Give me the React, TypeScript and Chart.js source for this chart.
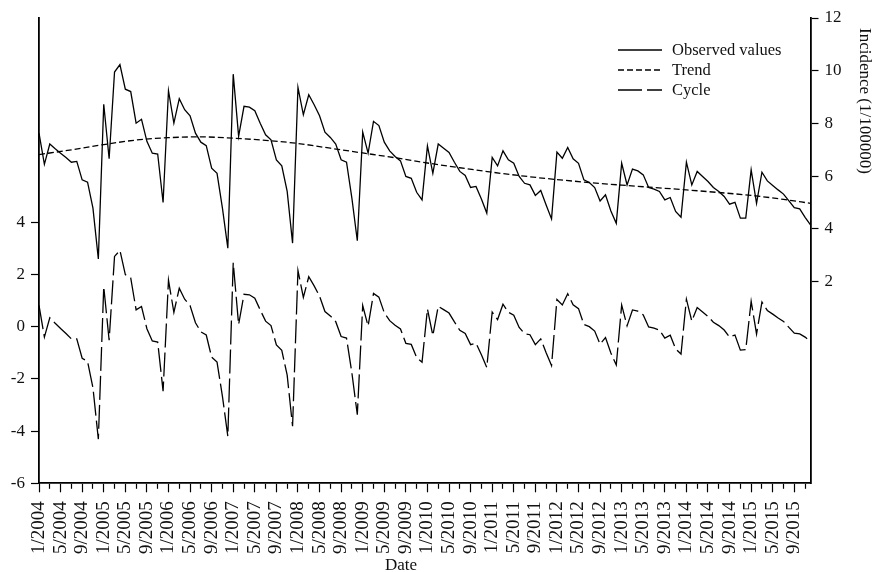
import React, { useEffect, useRef } from "react";
import { Chart, registerables } from "chart.js";

Chart.register(...registerables);

// ---------- data ----------
const years = [2004, 2005, 2006, 2007, 2008, 2009, 2010, 2011, 2012, 2013, 2014, 2015];
const monthNumbers = [1, 2, 3, 4, 5, 6, 7, 8, 9, 10, 11, 12];
const months: string[] = years.flatMap((y) => monthNumbers.map((m) => `${m}/${y}`));

const xTickLabels = [
  "1/2004", "5/2004", "9/2004", "1/2005", "5/2005", "9/2005",
  "1/2006", "5/2006", "9/2006", "1/2007", "5/2007", "9/2007",
  "1/2008", "5/2008", "9/2008", "1/2009", "5/2009", "9/2009",
  "1/2010", "5/2010", "9/2010", "1/2011", "5/2011", "9/2011",
  "1/2012", "5/2012", "9/2012", "1/2013", "5/2013", "9/2013",
  "1/2014", "5/2014", "9/2014", "1/2015", "5/2015", "9/2015",
];

const observed = [
  7.63, 6.45, 7.22, 7.04, 6.87, 6.71, 6.53, 6.56, 5.86, 5.77, 4.79, 2.86,
  8.73, 6.66, 9.95, 10.23, 9.30, 9.21, 8.01, 8.16, 7.32, 6.87, 6.84, 5.00,
  9.24, 8.01, 8.94, 8.52, 8.29, 7.63, 7.29, 7.16, 6.30, 6.11, 4.79, 3.27,
  9.87, 7.51, 8.65, 8.62, 8.48, 8.01, 7.57, 7.38, 6.62, 6.39, 5.42, 3.46,
  9.37, 8.33, 9.09, 8.71, 8.29, 7.67, 7.47, 7.22, 6.62, 6.53, 5.16, 3.55,
  7.67, 6.87, 8.08, 7.92, 7.29, 6.96, 6.75, 6.58, 5.99, 5.92, 5.39, 5.10,
  7.15, 6.11, 7.22, 7.06, 6.90, 6.53, 6.18, 6.03, 5.57, 5.61, 5.13, 4.60,
  6.71, 6.39, 6.96, 6.62, 6.49, 5.99, 5.73, 5.67, 5.27, 5.46, 4.91, 4.38,
  6.91, 6.68, 7.09, 6.66, 6.49, 5.86, 5.76, 5.57, 5.06, 5.29, 4.68, 4.21,
  6.49, 5.67, 6.27, 6.20, 6.05, 5.57, 5.51, 5.42, 5.10, 5.19, 4.66, 4.44,
  6.53, 5.67, 6.18, 5.99, 5.80, 5.57, 5.42, 5.23, 4.94, 5.01, 4.41, 4.41,
  6.24, 4.97, 6.15, 5.82, 5.65, 5.48, 5.32, 5.06, 4.81, 4.76, 4.44, 4.15,
];

const trendMonths = [
  "1/2004", "7/2004", "1/2005", "7/2005", "1/2006", "7/2006", "1/2007", "7/2007",
  "1/2008", "7/2008", "1/2009", "7/2009", "1/2010", "7/2010", "1/2011", "7/2011",
  "1/2012", "7/2012", "1/2013", "7/2013", "1/2014", "7/2014", "1/2015", "7/2015", "12/2015",
];
const trendValues = [
  6.82, 7.00, 7.20, 7.37, 7.46, 7.49, 7.44, 7.36,
  7.24, 7.06, 6.88, 6.70, 6.50, 6.32, 6.15, 6.00,
  5.87, 5.76, 5.66, 5.57, 5.48, 5.38, 5.27, 5.12, 4.97,
];

const cycle = [
  0.81, -0.40, 0.34, 0.13, -0.07, -0.26, -0.47, -0.47, -1.21, -1.33, -2.34, -4.31,
  1.53, -0.52, 2.69, 2.92, 1.99, 1.87, 0.64, 0.77, -0.08, -0.55, -0.59, -2.47,
  1.78, 0.55, 1.47, 1.05, 0.81, 0.15, -0.20, -0.32, -1.17, -1.36, -2.67, -4.20,
  2.45, 0.08, 1.24, 1.22, 1.09, 0.64, 0.21, 0.04, -0.70, -0.91, -1.86, -3.81,
  2.15, 1.12, 1.91, 1.56, 1.17, 0.58, 0.41, 0.19, -0.38, -0.44, -1.78, -3.37,
  0.81, 0.02, 1.27, 1.13, 0.53, 0.23, 0.05, -0.09, -0.64, -0.68, -1.18, -1.36,
  0.68, -0.34, 0.78, 0.65, 0.52, 0.18, -0.14, -0.26, -0.69, -0.63, -1.08, -1.56,
  0.56, 0.27, 0.86, 0.55, 0.44, -0.03, -0.27, -0.31, -0.69, -0.47, -1.00, -1.49,
  1.04, 0.83, 1.26, 0.84, 0.69, 0.08, 0.00, -0.17, -0.67, -0.42, -1.01, -1.47,
  0.83, 0.03, 0.64, 0.59, 0.45, -0.01, -0.06, -0.13, -0.44, -0.33, -0.85, -1.05,
  1.05, 0.21, 0.73, 0.56, 0.39, 0.17, 0.04, -0.13, -0.40, -0.32, -0.90, -0.88,
  0.97, -0.28, 0.94, 0.62, 0.48, 0.33, 0.20, -0.03, -0.25, -0.28, -0.40, -0.58,
];

const leftTicks = [-6, -4, -2, 0, 2, 4];
const rightTicks = [2, 4, 6, 8, 10, 12];

const seriesLabels = ["Observed values", "Trend", "Cycle"];
const xTitle = "Date";
const yRightTitle = "Incidence (1/100000)";

// ---------- styling ----------
const FONT = "'Liberation Serif', 'Times New Roman', serif";
const INK = "#000";
const TEXT = "#111";

const overlayPlugin = {
  id: "overlay",
  afterDraw(chart: any) {
    const ctx = chart.ctx as CanvasRenderingContext2D;
    ctx.save();
    // legend
    chart.data.datasets.forEach((ds: any, k: number) => {
      const y = 50 + k * 20;
      ctx.beginPath();
      ctx.setLineDash(ds.borderDash || []);
      ctx.lineWidth = ds.borderWidth;
      ctx.strokeStyle = ds.borderColor;
      ctx.moveTo(618, y);
      ctx.lineTo(662, y);
      ctx.stroke();
      ctx.setLineDash([]);
      ctx.fillStyle = TEXT;
      ctx.font = `16.5px ${FONT}`;
      ctx.textAlign = "left";
      ctx.textBaseline = "middle";
      ctx.fillText(ds.label, 672, y + 1);
    });
    // x title
    ctx.font = `17px ${FONT}`;
    ctx.fillStyle = TEXT;
    ctx.textAlign = "center";
    ctx.textBaseline = "middle";
    ctx.fillText(xTitle, 401, 566);
    // right y title
    ctx.translate(864.5, 28);
    ctx.rotate(Math.PI / 2);
    ctx.textAlign = "left";
    ctx.textBaseline = "middle";
    ctx.fillText(yRightTitle, 0, 0);
    ctx.restore();
  },
};

export default function App() {
  const canvasRef = useRef<HTMLCanvasElement | null>(null);

  useEffect(() => {
    if (!canvasRef.current) return;
    Chart.defaults.font.family = FONT;
    const chart = new Chart(canvasRef.current, {
      type: "line",
      data: {
        labels: months,
        datasets: [
          {
            label: seriesLabels[0],
            data: observed,
            yAxisID: "y2",
            borderColor: INK,
            borderWidth: 1.3,
            pointRadius: 0,
            tension: 0,
            fill: false,
          },
          {
            label: seriesLabels[1],
            data: trendMonths.map((m, k) => ({ x: m, y: trendValues[k] })),
            yAxisID: "y2",
            borderColor: INK,
            borderWidth: 1.3,
            borderDash: [6, 3],
            pointRadius: 0,
            cubicInterpolationMode: "monotone",
            fill: false,
          },
          {
            label: seriesLabels[2],
            data: cycle,
            yAxisID: "y",
            borderColor: INK,
            borderWidth: 1.3,
            borderDash: [24, 5],
            pointRadius: 0,
            tension: 0,
            fill: false,
          },
        ],
      } as any,
      options: {
        responsive: false,
        animation: false,
        layout: { padding: { top: 18, left: 0, right: 0, bottom: 0 } },
        plugins: { legend: { display: false }, tooltip: { enabled: false } },
        scales: {
          x: {
            type: "category",
            offset: false,
            grid: {
              display: true,
              drawOnChartArea: false,
              drawTicks: true,
              tickLength: 9,
              tickColor: INK,
              tickWidth: 1.2,
              tickBorderDash: (c: any) =>
                c.tick && c.tick.value % 4 === 0 ? [] : [5, 50],
            } as any,
            border: { display: true, color: INK, width: 1.8 },
            ticks: {
              autoSkip: false,
              minRotation: 90,
              maxRotation: 90,
              padding: 9,
              color: TEXT,
              font: { size: 19, family: FONT },
              callback: (v: any) => (Number(v) % 4 === 0 ? xTickLabels[Number(v) / 4] : ""),
            },
            afterBuildTicks: (s: any) => {
              s.ticks = s.ticks.filter((t: any) => t.value % 2 === 0);
            },
            afterFit: (s: any) => {
              s.height = 96.7;
            },
          },
          y: {
            type: "linear",
            position: "left",
            min: -6,
            max: 11.82,
            grid: {
              display: true,
              drawOnChartArea: false,
              tickLength: 8,
              tickColor: INK,
              tickWidth: 1.2,
            },
            border: { display: true, color: INK, width: 1.8 },
            ticks: { color: TEXT, padding: 6, font: { size: 17, family: FONT } },
            afterBuildTicks: (s: any) => {
              s.ticks = leftTicks.map((v) => ({ value: v }));
            },
            afterFit: (s: any) => {
              s.width = 39;
            },
          },
          y2: {
            type: "linear",
            position: "right",
            min: -5.65,
            max: 12,
            grid: {
              display: true,
              drawOnChartArea: false,
              tickLength: 8,
              tickColor: INK,
              tickWidth: 1.2,
            },
            border: { display: true, color: INK, width: 1.8 },
            ticks: { color: TEXT, padding: 6, font: { size: 17, family: FONT } },
            afterBuildTicks: (s: any) => {
              s.ticks = rightTicks.map((v) => ({ value: v }));
            },
            afterFit: (s: any) => {
              s.width = 61.5;
            },
          },
        },
      } as any,
      plugins: [overlayPlugin],
    });
    return () => chart.destroy();
  }, []);

  return (
    <div style={{ position: "fixed", left: 0, top: 0, width: 872, height: 580, background: "#fff" }}>
      <canvas ref={canvasRef} width={872} height={580} style={{ display: "block" }} />
    </div>
  );
}
